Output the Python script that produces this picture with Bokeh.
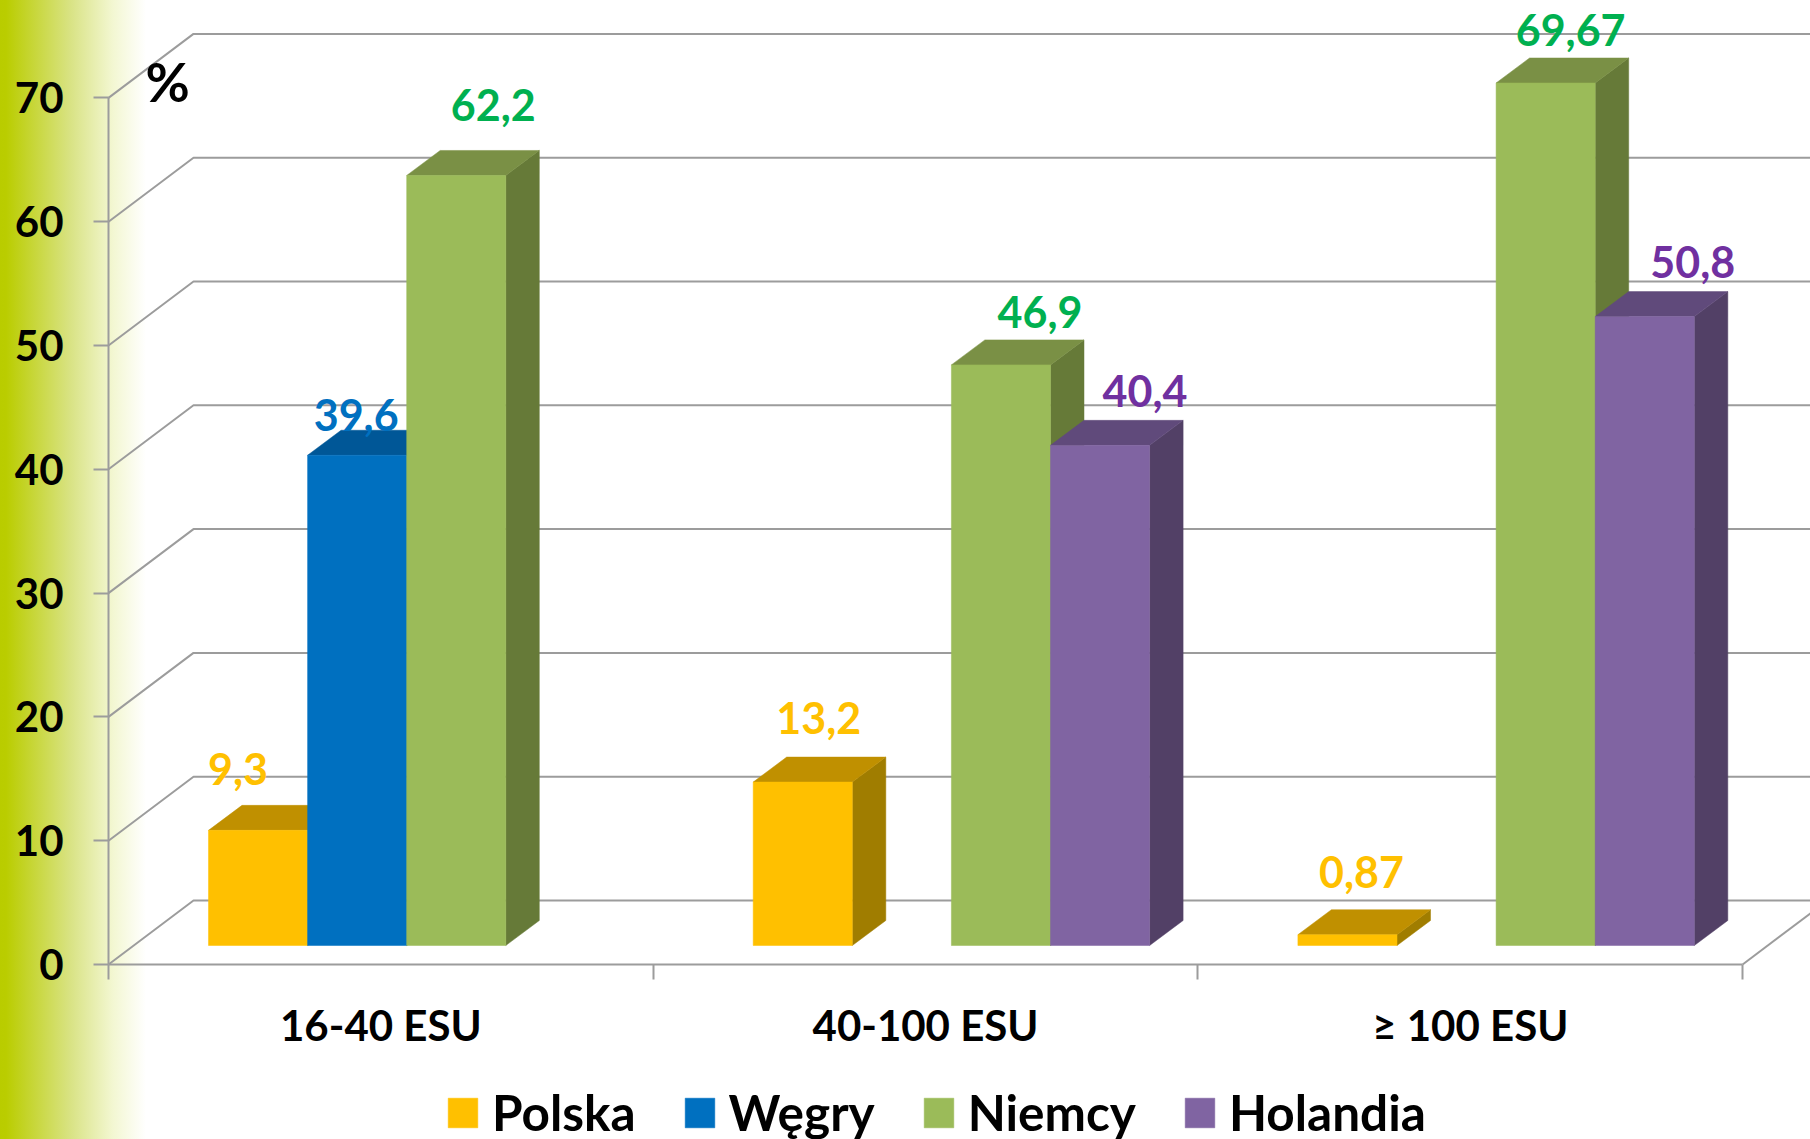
from bokeh.embed import file_html
from bokeh.resources import INLINE
from bokeh.plotting import figure
from bokeh.models import FixedTicker, Legend, LegendItem, ColumnDataSource, Range1d
from bokeh.core.properties import value

categories = ["16-40 ESU", "40-100 ESU", "\u2265 100 ESU"]
polska = [9.3, 13.2, 0.87]
wegry = [39.6, None, None]
niemcy = [62.2, 46.9, 69.67]
holandia = [None, 40.4, 50.8]
value_ticks = [0, 10, 20, 30, 40, 50, 60, 70]

series = [
    ("Polska", polska, "#FFC000", "#C09000", "#A07D00", "#FFC000", [-20, 16, 14], [61, 64, 63]),
    ("W\u0119gry", wegry, "#0070C0", "#005797", "#004F88", "#0070C0", [-1, 0, 0], [40, 0, 0]),
    ("Niemcy", niemcy, "#9BBB59", "#7A9045", "#667A38", "#00B050", [37, 39, 25], [70, 53, 53]),
    ("Holandia", holandia, "#8064A2", "#604A7B", "#524066", "#7030A0", [0, 45, 48], [0, 54, 55]),
]

PX_GROUP = 544.7
PX_VALUE = 12.38
WALL_DX = 85 / PX_GROUP
WALL_DY = 64 / PX_VALUE
BAR_DX = 33.5 / PX_GROUP
BAR_DY = 25 / PX_VALUE
FLOOR_DY = 19 / PX_VALUE
BAR_W = 99.1 / PX_GROUP
BAR_START = 100 / PX_GROUP
GREY = "#9C9C9C"
FONT = "Lato"


def fmt(v):
    return str(v).replace(".", ",")


p = figure(width=1810, height=1139, output_backend="svg", toolbar_location=None,
           x_range=Range1d(-108 / PX_GROUP, (1810 - 108) / PX_GROUP),
           y_range=Range1d(-175 / PX_VALUE, 964 / PX_VALUE),
           min_border=0, outline_line_color=None, background_fill_alpha=0, border_fill_alpha=0,
           margin=(0, 0, 0, 0))
p.styles = {"background": "linear-gradient(90deg, #B9CC00 0px, #BACD00 6px, #D9E385 71px, #F3F7D2 113px, #FFFFFF 146px)"}
p.grid.visible = False

# y axis
ya = p.yaxis[0]
ya.fixed_location = 0
ya.ticker = FixedTicker(ticks=value_ticks)
ya.bounds = (0, 70)
ya.axis_line_color = GREY
ya.axis_line_width = 2
ya.major_tick_line_color = GREY
ya.major_tick_line_width = 2
ya.major_tick_out = 15
ya.major_tick_in = 0
ya.minor_tick_line_color = None
ya.major_label_standoff = 30
ya.major_label_text_font = FONT
ya.major_label_text_font_style = "bold"
ya.major_label_text_font_size = "42px"
ya.major_label_text_color = "black"

# x axis: category labels in the group centres, tick marks on group bounds
xa = p.xaxis[0]
xa.fixed_location = 0
centres = [i + 0.5 for i in range(len(categories))]
xa.ticker = FixedTicker(ticks=centres, minor_ticks=list(range(len(categories) + 1)))
xa.major_label_overrides = {c: n for c, n in zip(centres, categories)}
xa.bounds = (0, 3)
xa.axis_line_color = GREY
xa.axis_line_width = 2
xa.major_tick_line_color = None
xa.major_tick_out = 0
xa.major_tick_in = 0
xa.minor_tick_line_color = GREY
xa.minor_tick_line_width = 2
xa.minor_tick_out = 15
xa.minor_tick_in = 0
xa.major_label_standoff = 20
xa.major_label_text_font = FONT
xa.major_label_text_font_style = "bold"
xa.major_label_text_font_size = "42px"
xa.major_label_text_color = "black"

# back wall lines and floor / side edges
xmax = p.x_range.end
wall_xs = [[0, WALL_DX, xmax] for _ in value_ticks]
wall_ys = [[v, v + WALL_DY, v + WALL_DY] for v in value_ticks]
wall_xs.append([3, 3 + WALL_DX])
wall_ys.append([0, WALL_DY])
p.multi_line(wall_xs, wall_ys, line_color=GREY, line_width=2)

items = []
label_x, label_y, label_t, label_c, label_dx, label_dy = [], [], [], [], [], []

for slot, (name, vals, front, top_c, side_c, text_c, dxs, dys) in enumerate(series):
    fx, ft, fb = [], [], []
    sx, sy, tx, ty = [], [], [], []
    for g, v in enumerate(vals):
        if v is None:
            continue
        x0 = g + BAR_START + slot * BAR_W
        x1 = x0 + BAR_W
        base = FLOOR_DY
        top = FLOOR_DY + v
        fx.append((x0 + x1) / 2)
        ft.append(top)
        fb.append(base)
        sx.append([x1, x1 + BAR_DX, x1 + BAR_DX, x1])
        sy.append([base, base + BAR_DY, top + BAR_DY, top])
        tx.append([x0, x0 + BAR_DX, x1 + BAR_DX, x1])
        ty.append([top, top + BAR_DY, top + BAR_DY, top])
        label_x.append((x0 + x1) / 2)
        label_y.append(top)
        label_t.append(fmt(v))
        label_c.append(text_c)
        label_dx.append(dxs[g])
        label_dy.append(-dys[g])
    p.patches(sx, sy, fill_color=side_c, line_color=side_c, line_width=0.5)
    p.patches(tx, ty, fill_color=top_c, line_color=top_c, line_width=0.5)
    r = p.vbar(x=fx, top=ft, bottom=fb, width=BAR_W, fill_color=front, line_color=front, line_width=0.5)
    items.append(LegendItem(label=name, renderers=[r]))

labels = ColumnDataSource(dict(x=label_x, y=label_y, t=label_t, c=label_c, dx=label_dx, dy=label_dy))
p.text("x", "y", text="t", source=labels, text_color="c", x_offset="dx", y_offset="dy",
       text_align="center", text_baseline="alphabetic", text_font=value(FONT),
       text_font_style="bold", text_font_size="43px")

p.text([0.0], [70.0], text=["%"], x_offset=37, y_offset=-16, text_color="black", text_align="left",
       text_baseline="alphabetic", text_font=value(FONT), text_font_style="bold", text_font_size="54px")

legend = Legend(items=items, orientation="horizontal", location=(444, -3), spacing=45,
                glyph_width=37, glyph_height=37, label_standoff=11, padding=0, margin=0,
                border_line_color=None, background_fill_alpha=0,
                label_text_font=FONT, label_text_font_style="bold", label_text_font_size="49.5px",
                label_text_color="black")
p.add_layout(legend, "center")

open("out.html", "w").write(file_html(p, INLINE))
